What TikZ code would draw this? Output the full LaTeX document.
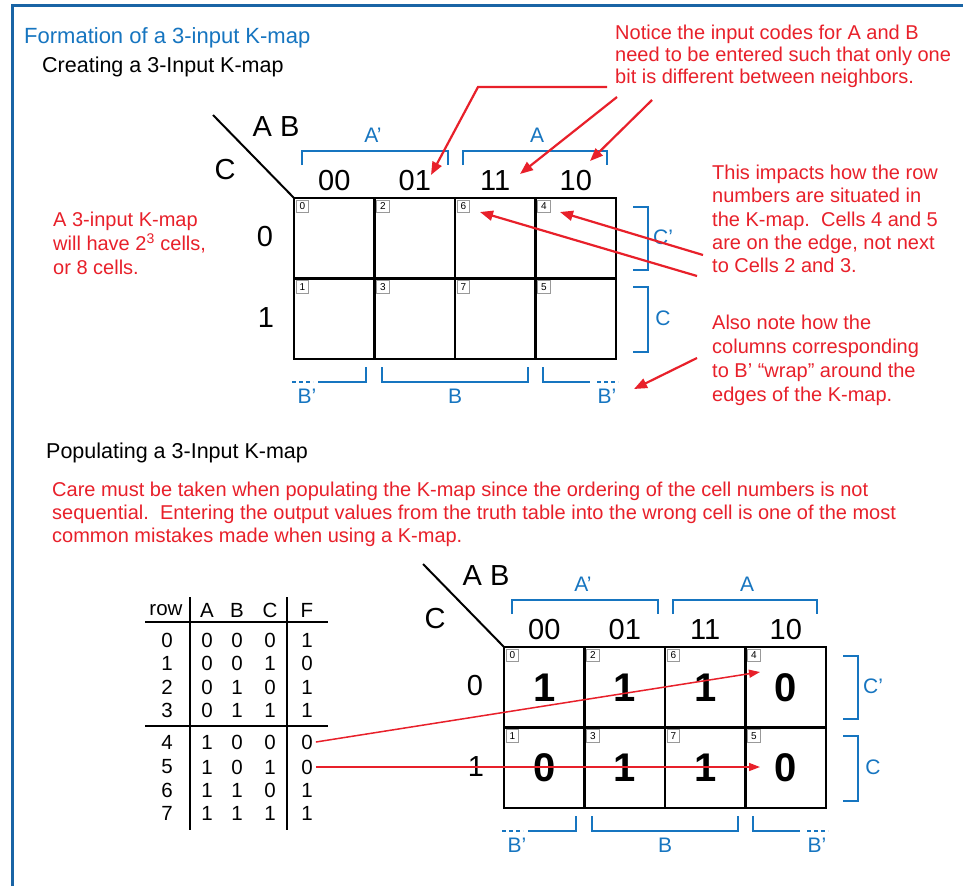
\documentclass[tikz,border=0pt]{standalone}
\usepackage{fontspec}
\setmainfont{Liberation Sans}
\usetikzlibrary{arrows.meta}
\definecolor{kblue}{RGB}{22,117,192}
\definecolor{kred}{RGB}{232,32,42}
\definecolor{kframe}{RGB}{25,100,165}
\newcommand\fs[2]{\fontsize{#1}{#2}\selectfont}
\tikzset{
  gridcell/.style={draw=black, line width=2.4pt, minimum width=80.5pt, minimum height=80.5pt, inner sep=0pt},
  numbox/.style={draw=black!40, fill=white, line width=0.6pt, minimum width=12.5pt, minimum height=12.5pt, inner sep=0pt, font=\fs{10}{10}, anchor=north west},
  val/.style={font=\bfseries\fs{40}{40}, inner sep=0pt},
  bracket/.style={draw=kblue, line width=2.4pt},
  dotbr/.style={draw=kblue, line width=2.4pt, dash pattern=on 4pt off 3pt},
  blab/.style={text=kblue, font=\fs{21}{21}, inner sep=0pt},
  big/.style={font=\fs{29}{29}, inner sep=0pt},
  redtext/.style={text=kred, align=left, anchor=north west, inner sep=0pt},
  redarrow/.style={draw=kred, line width=2.2pt, -{Triangle[length=13pt,width=10pt]}},
  redarrowthin/.style={draw=kred, line width=1.5pt, -{Triangle[length=11pt,width=8pt]}},
  tab/.style={font=\fs{20.5}{20.5}, inner sep=0pt},
  tabline/.style={draw=black, line width=2pt},
}
\newcommand\kmap[3]{%
\begin{scope}[shift={(#2,#3)}]
  \coordinate (#1corner) at (294,198);
  \coordinate (#1diag) at (213,115);
  \draw[line width=2pt] (#1diag) -- (#1corner);
  \node[big] (#1AB) at (276,127) {A B};
  \node[big] (#1C) at (225,170) {C};
  \node[big] (#1r0) at (265,237) {0};
  \node[big] (#1r1) at (266,318) {1};
  \foreach \x/\code/\na/\nb [count=\i] in {334.25/00/0/1, 414.75/01/2/3, 495.25/11/6/7, 575.75/10/4/5}{
    \node[big] (#1col\i) at (\x,181) {\code};
    \node[gridcell] (#1cell\na) at (\x,238.25) {};
    \node[gridcell] (#1cell\nb) at (\x,318.75) {};
  }
  \foreach \n in {0,1,2,3,4,5,6,7}{
    \node[numbox] (#1num\n) at ([shift={(3,3)}]#1cell\n.north west) {\n};
  }
  % brackets
  \draw[bracket] (302,165) -- (302,151) -- (448,151) -- (448,165);
  \draw[bracket] (463,165) -- (463,151) -- (607,151) -- (607,165);
  \node[blab] (#1lAn) at (373,135) {A'};
  \node[blab] (#1lA) at (537,135) {A};
  \draw[bracket] (633,207) -- (648,207) -- (648,270) -- (633,270);
  \draw[bracket] (633,287) -- (648,287) -- (648,352) -- (633,352);
  \node[blab] (#1lCn) at (663,237) {C'};
  \node[blab] (#1lC) at (663,318) {C};
  \draw[dotbr] (292,382) -- (313,382);
  \draw[bracket] (318,382) -- (366,382) -- (366,367);
  \draw[bracket] (382,367) -- (382,382) -- (528,382) -- (528,367);
  \draw[bracket] (543,367) -- (543,382) -- (590,382);
  \draw[dotbr] (597,382) -- (618,382);
  \node[blab] (#1lBn) at (307,396) {B'};
  \node[blab] (#1lB) at (455,396) {B};
  \node[blab] (#1lBr) at (607,396) {B'};
\end{scope}}
\begin{document}
\begin{tikzpicture}[x=1pt,y=-1pt]
\useasboundingbox (0,0) rectangle (963,886);
\fill[white] (0,0) rectangle (963,886);
\draw[kframe, line width=3pt] (12,886) -- (12,5) -- (963,5);

% titles
\node[anchor=north west, inner sep=0pt, text=kblue, font=\fs{22}{22}] (title) at (24,27) {Formation of a 3-input K-map};
\node[anchor=north west, inner sep=0pt, font=\fs{21.5}{22}] (sub1) at (42,57) {Creating a 3-Input K-map};
\node[anchor=north west, inner sep=0pt, font=\fs{21.5}{22}] (sub2) at (46,443) {Populating a 3-Input K-map};

% K-maps
\kmap{t}{0}{0}
\kmap{b}{210}{449}

% values in bottom map
\foreach \n/\v in {0/1,2/1,6/1,4/0,1/0,3/1,7/1,5/0}{
  \node[val] (bval\n) at (bcell\n) {\v};
}

% red notes
\node[redtext, font=\fs{20}{22}] (note1) at (615,25) {Notice the input codes for A and B\\need to be entered such that only one\\bit is different between neighbors.};
\node[redtext, font=\fs{20}{23.3}] (note2) at (712,165) {This impacts how the row\\numbers are situated in\\the K-map.\ \ Cells 4 and 5\\are on the edge, not next\\to Cells 2 and 3.};
\node[redtext, font=\fs{20}{24}] (note3) at (712,315) {Also note how the\\columns corresponding\\to B' “wrap” around the\\edges of the K-map.};
\node[redtext, font=\fs{20}{24}] (note4) at (53,212) {A 3-input K-map\\will have 2\textsuperscript{3} cells,\\or 8 cells.};
\node[redtext, font=\fs{20}{23}] (note5) at (52,482) {Care must be taken when populating the K-map since the ordering of the cell numbers is not\\sequential.\ \ Entering the output values from the truth table into the wrong cell is one of the most\\common mistakes made when using a K-map.};

% top arrows
\coordinate (a1s) at (607,87);
\coordinate (a1b) at (478,87);
\coordinate (a1e) at (431,175);
\draw[redarrow] (a1s) -- (a1b) -- (a1e);
\coordinate (a2s) at (617,97);
\coordinate (a2e) at (520,174);
\draw[redarrow] (a2s) -- (a2e);
\coordinate (a3s) at (652,100);
\coordinate (a3e) at (590,161);
\draw[redarrow] (a3s) -- (a3e);
\coordinate (a4s) at (703,255);
\coordinate (a4e) at (560,212);
\draw[redarrow] (a4s) -- (a4e);
\coordinate (a5s) at (697,276);
\coordinate (a5e) at (480,212);
\draw[redarrow] (a5s) -- (a5e);
\coordinate (a6s) at (697,358);
\coordinate (a6e) at (634,389);
\draw[redarrow] (a6s) -- (a6e);

% truth table
\node[tab] (hrow) at (166,610) {row};
\node[tab] (hA) at (207,610) {A};
\node[tab] (hB) at (237,610) {B};
\node[tab] (hC) at (270,610) {C};
\node[tab] (hF) at (307,610) {F};
\foreach \r/\a/\b/\c/\f/\y in {0/0/0/0/1/640, 1/0/0/1/0/663, 2/0/1/0/1/687, 3/0/1/1/1/710, 4/1/0/0/0/742, 5/1/0/1/0/767, 6/1/1/0/1/790, 7/1/1/1/1/813}{
  \node[tab] (tr\r) at (167,\y) {\r};
  \node[tab] (ta\r) at (207,\y) {\a};
  \node[tab] (tb\r) at (237,\y) {\b};
  \node[tab] (tc\r) at (270,\y) {\c};
  \node[tab] (tf\r) at (307,\y) {\f};
}
\draw[tabline] (190,597) -- (190,830);
\draw[tabline] (287,597) -- (287,830);
\draw[tabline] (145,622) -- (328,622);
\draw[tabline] (145,726) -- (328,726);

% bottom arrows
\coordinate (b4e) at (760,672);
\coordinate (b5e) at (760,767);
\draw[redarrowthin] ([xshift=3pt]tf4.east) -- (b4e);
\draw[redarrowthin] ([xshift=3pt]tf5.east) -- (b5e);
\end{tikzpicture}
\end{document}
